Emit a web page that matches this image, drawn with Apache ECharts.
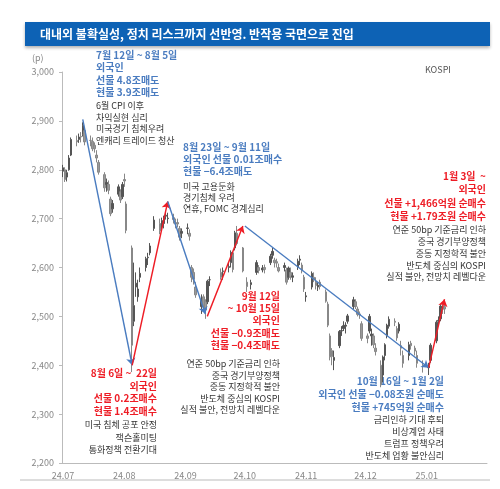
<!DOCTYPE html>
<html><head><meta charset="utf-8">
<script src="https://cdn.jsdelivr.net/npm/echarts@6/dist/echarts.min.js"></script>
<style>html,body{margin:0;padding:0;background:#fff}#c{width:500px;height:489px}</style>
</head><body><div id="c"></div>
<script>
// [date, open, close, low, high]
const ohlc = [
['07-01',2797,2804,2785,2810],['07-02',2800,2780,2775,2805],['07-03',2785,2794,2776,2800],['07-04',2800,2824,2798,2830],
['07-05',2830,2862,2828,2866],['07-08',2860,2857,2848,2870],['07-09',2862,2867,2855,2874],['07-10',2868,2867,2856,2877],
['07-11',2872,2891,2868,2897],['07-12',2880,2857,2850,2885],['07-15',2860,2860,2848,2870],['07-16',2858,2843,2838,2866],
['07-17',2850,2843,2835,2856],['07-18',2830,2824,2815,2840],['07-19',2815,2795,2790,2820],['07-22',2790,2763,2755,2795],
['07-23',2770,2774,2755,2782],['07-24',2770,2758,2750,2778],['07-25',2740,2710,2705,2745],['07-26',2720,2731,2712,2738],
['07-29',2750,2765,2745,2770],['07-30',2755,2738,2732,2760],['07-31',2745,2770,2740,2775],['08-01',2780,2777,2765,2792],
['08-02',2730,2676,2670,2735],['08-05',2640,2441,2386,2645],['08-06',2490,2522,2480,2610],['08-07',2560,2568,2540,2590],
['08-08',2540,2556,2530,2575],['08-09',2580,2588,2570,2600],['08-12',2600,2618,2592,2622],['08-13',2620,2621,2605,2630],
['08-14',2630,2644,2625,2650],['08-16',2680,2697,2675,2705],['08-19',2690,2675,2668,2700],['08-20',2685,2696,2678,2702],
['08-21',2690,2701,2680,2706],['08-22',2705,2707,2698,2715],['08-23',2700,2701,2690,2712],['08-26',2702,2698,2690,2710],
['08-27',2690,2689,2680,2700],['08-28',2692,2689,2682,2700],['08-29',2680,2662,2655,2685],['08-30',2670,2674,2660,2680],
['09-02',2680,2681,2668,2690],['09-03',2670,2664,2655,2678],['09-04',2600,2580,2570,2605],['09-05',2590,2576,2565,2598],
['09-06',2560,2544,2538,2570],['09-09',2520,2535,2505,2545],['09-10',2540,2523,2515,2545],['09-11',2530,2513,2495,2535],
['09-12',2530,2572,2525,2575],['09-13',2575,2575,2562,2582],['09-19',2590,2580,2575,2598],['09-20',2592,2593,2575,2600],
['09-23',2600,2602,2590,2610],['09-24',2610,2631,2600,2635],['09-25',2630,2596,2590,2632],['09-26',2640,2671,2635,2675],
['09-27',2670,2649,2645,2685],['09-30',2640,2593,2590,2642],['10-02',2570,2561,2550,2580],['10-04',2565,2569,2555,2575],
['10-07',2590,2610,2585,2615],['10-08',2600,2594,2588,2605],['10-10',2595,2599,2590,2605],['10-11',2600,2596,2588,2606],
['10-14',2610,2623,2605,2628],['10-15',2625,2633,2618,2640],['10-16',2615,2610,2600,2620],['10-17',2612,2609,2600,2618],
['10-18',2600,2593,2590,2608],['10-21',2600,2604,2592,2610],['10-22',2595,2570,2565,2600],['10-23',2580,2599,2575,2602],
['10-24',2590,2581,2575,2600],['10-25',2580,2583,2570,2590],['10-28',2600,2613,2595,2618],['10-29',2615,2617,2605,2625],
['10-30',2605,2593,2588,2610],['10-31',2580,2556,2550,2585],['11-01',2540,2542,2530,2550],['11-04',2560,2588,2555,2592],
['11-05',2580,2576,2570,2590],['11-06',2570,2563,2555,2580],['11-07',2560,2564,2552,2570],['11-08',2570,2561,2555,2575],
['11-11',2550,2531,2528,2555],['11-12',2525,2482,2478,2530],['11-13',2460,2417,2410,2465],['11-14',2430,2418,2400,2435],
['11-15',2410,2416,2390,2430],['11-18',2440,2469,2435,2472],['11-19',2470,2471,2460,2480],['11-20',2475,2481,2470,2490],
['11-21',2480,2482,2465,2488],['11-22',2490,2501,2485,2505],['11-25',2520,2534,2515,2540],['11-26',2530,2520,2515,2535],
['11-27',2515,2504,2500,2520],['11-28',2505,2503,2495,2510],['11-29',2485,2455,2450,2490],['12-02',2460,2455,2445,2465],
['12-03',2470,2500,2465,2505],['12-04',2460,2464,2440,2475],['12-05',2460,2442,2435,2465],['12-06',2435,2428,2420,2445],
['12-09',2400,2360,2355,2410],['12-10',2380,2417,2365,2420],['12-11',2420,2442,2410,2445],['12-12',2460,2482,2455,2485],
['12-13',2480,2494,2475,2500],['12-16',2490,2488,2480,2496],['12-17',2475,2456,2450,2480],['12-18',2470,2484,2465,2488],
['12-19',2440,2435,2420,2450],['12-20',2420,2404,2395,2430],['12-23',2420,2442,2410,2448],['12-24',2445,2440,2432,2450],
['12-26',2435,2429,2420,2440],['12-27',2420,2404,2395,2430],['12-30',2400,2399,2385,2410],['01-02',2395,2398,2380,2405],
['01-03',2410,2441,2405,2445],['01-06',2450,2488,2445,2492],['01-07',2490,2492,2480,2500],['01-08',2495,2521,2490,2525],
['01-09',2515,2515,2505,2525],['01-10',2520,2515,2505,2530]
];
const monthStarts = {'07':0,'08':31,'09':62,'10':92,'11':123,'12':153,'01':184};
const monthLabels = {'07':'24.07','08':'24.08','09':'24.09','10':'24.10','11':'24.11','12':'24.12','01':'25.01'};
const totalDays = 215;
// trend arrows: [fromDate, fromValue, toDate, toValue, colour key]
const arrows = [
['07-11',2903,'08-05',2400,'blue'],['08-05',2400,'08-23',2735,'red'],['08-23',2735,'09-11',2505,'blue'],
['09-12',2500,'09-30',2685,'red'],['10-01',2685,'01-02',2395,'blue'],['01-02',2395,'01-10',2535,'red']
];

const idx = d => monthStarts[d.slice(0,2)] + (+d.slice(3)) - 1;
const cats = [], labelMap = {};
for (const m in monthStarts) labelMap[monthStarts[m]] = monthLabels[m];
for (let i=0;i<totalDays;i++) cats.push(labelMap[i] || ('d'+i));
const candle = new Array(totalDays).fill('-');
ohlc.forEach(r => { candle[idx(r[0])] = [r[1],r[2],r[3],r[4]]; });
const BLUE='#4a7cc0', RED='#ee1c25', DARK='#333';
const F='"Noto Sans CJK KR", sans-serif';

function block(x, y0, step, lines, color, bold, align){
  return lines.map((t,i)=>({type:'text',x:x,y:y0+i*step,
    style:{text:t,fill:color,font:(bold?'bold 10px ':'9px ')+F,textAlign:align||'left',textVerticalAlign:'middle'}}));
}
const g = [
 {type:'rect',shape:{x:25,y:22,width:465,height:24},style:{fill:'#0d62b5',shadowBlur:3,shadowColor:'rgba(0,0,0,0.3)',shadowOffsetY:2}},
 {type:'text',x:40,y:34,style:{text:'대내외 불확실성, 정치 리스크까지 선반영. 반작용 국면으로 진입',fill:'#fff',font:'bold 12px '+F,textVerticalAlign:'middle'}},
 {type:'line',shape:{x1:20,y1:480,x2:490,y2:480},style:{stroke:'#bbb',lineWidth:1}},
 {type:'text',x:32,y:58,style:{text:'(p)',fill:'#888',font:'9px '+F,textVerticalAlign:'middle'}},
 {type:'text',x:425,y:70,style:{text:'KOSPI',fill:'#555',font:'9px '+F,textVerticalAlign:'middle'}},
 ...block(96,55,12.5,['7월 12일 ~ 8월 5일','외국인','선물 4.8조매도','현물 3.9조매도'],BLUE,true),
 ...block(96,106,11.5,['6월 CPI 이후','차익실현 심리','미국경기 침체우려','엔캐리 트레이드 청산'],DARK,false),
 ...block(183,147,12,['8월 23일 ~ 9월 11일','외국인 선물 0.01조매수','현물 −6.4조매도'],BLUE,true),
 ...block(183,187,11,['미국 고용둔화','경기침체 우려','연휴, FOMC 경계심리'],DARK,false),
 ...block(157,373,12.8,['8월 6일 ~  22일','외국인','선물 0.2조매수','현물 1.4조매수'],RED,true,'right'),
 ...block(157,425,12.5,['미국 침체 공포 안정','잭슨홀미팅','통화정책 전환기대'],DARK,false,'right'),
 ...block(280,296,12.3,['9월 12일','~ 10월 15일','외국인','선물 −0.9조매도','현물 −0.4조매도'],RED,true,'right'),
 ...block(280,364,11.5,['연준 50bp 기준금리 인하','중국 경기부양정책','중동 지정학적 불안','반도체 중심의 KOSPI','실적 불안, 전망치 레벨다운'],DARK,false,'right'),
 ...block(486,176,13.5,['1월 3일  ~','외국인','선물 +1,466억원 순매수','현물 +1.79조원 순매수'],RED,true,'right'),
 ...block(486,230,11.7,['연준 50bp 기준금리 인하','중국 경기부양정책','중동 지정학적 불안','반도체 중심의 KOSPI','실적 불안, 전망치 레벨다운'],DARK,false,'right'),
 ...block(444,381,13,['10월 16일 ~ 1월 2일','외국인 선물 −0.08조원 순매도','현물 +745억원 순매수'],BLUE,true,'right'),
 ...block(444,420,11.7,['금리인하 기대 후퇴','비상계엄 사태','트럼프 정책우려','반도체 업황 불안심리'],DARK,false,'right')
];
const chart = echarts.init(document.getElementById('c'));
const isTick = i => labelMap[i] !== undefined;
chart.setOption({
  animation:false,
  grid:{left:62,right:13,top:72,bottom:26},
  xAxis:{type:'category',data:cats,boundaryGap:true,
    axisLine:{lineStyle:{color:'#bbb'}},
    axisTick:{interval:(i)=>isTick(i),lineStyle:{color:'#bbb'},length:3},
    axisLabel:{interval:(i)=>isTick(i),formatter:v=>v.startsWith('d')?'':v,color:'#888',fontSize:9,fontFamily:F}},
  yAxis:{type:'value',min:2200,max:3000,interval:100,splitLine:{show:false},
    axisLine:{show:true,lineStyle:{color:'#bbb'}},axisTick:{show:true,length:3,lineStyle:{color:'#bbb'}},
    axisLabel:{color:'#888',fontSize:9,fontFamily:F,formatter:v=>v.toLocaleString('en-US')}},
  series:[
    {type:'candlestick',data:candle,barWidth:2,
      itemStyle:{color:'#555',color0:'#999',borderColor:'#555',borderColor0:'#888',borderWidth:1}},
    {type:'lines',coordinateSystem:'cartesian2d',z:5,symbol:['none','arrow'],symbolSize:7,
      data:arrows.map(a=>({coords:[[idx(a[0]),a[1]],[idx(a[2]),a[3]]],
        lineStyle:{color:a[4]==='red'?RED:BLUE,width:1.4,opacity:1}}))}
  ],
  graphic:g
});
</script></body></html>
